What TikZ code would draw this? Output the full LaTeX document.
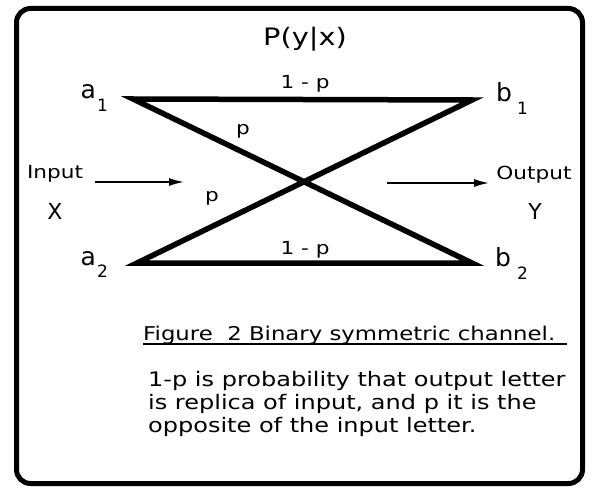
\documentclass[tikz,border=0pt]{standalone}
\usepackage{fontspec}
\setmainfont{DejaVu Sans}[FakeStretch=1.2]
\newfontfamily\narrowfont{DejaVu Sans}
\usetikzlibrary{shapes,arrows.meta}
\tikzstyle{line} = [draw, line width=1.6pt, -{Latex[length=15pt,width=8pt]}]
\tikzstyle{wire} = [draw, line width=5.5pt]
\tikzstyle{letter} = [inner sep=0pt, anchor=base west, font=\narrowfont\fontsize{25}{25}\selectfont]
\tikzstyle{prob} = [inner sep=0pt, anchor=base, font=\fontsize{18}{18}\selectfont]
\tikzstyle{body} = [inner sep=0pt, anchor=base west, font=\fontsize{20}{24}\selectfont]
\newcommand{\idx}[1]{\raisebox{-13pt}{\fontsize{17}{17}\selectfont #1}}

\begin{document}
\begin{tikzpicture}[x=1pt,y=-1pt]
\useasboundingbox (0,0) rectangle (594,489);
\draw[line width=5pt, rounded corners=14pt] (16.5,8.5) rectangle (582.5,483.5);
%
\coordinate (a1) at (133,99);
\coordinate (b1) at (472,100);
\coordinate (a2) at (137,263);
\coordinate (b2) at (472,263);
\path[wire] (a1) -- (b1) -- (a2) -- (b2) -- cycle;
%
\node[letter] (la1) at (80.5,99) {a\hspace{1pt}\idx{1}};
\node[letter] (lb1) at (496,102) {b\hspace{5pt}\idx{1}};
\node[letter] (la2) at (80.5,265) {a\hspace{1pt}\idx{2}};
\node[letter] (lb2) at (495,266) {b\hspace{6pt}\idx{2}};
%
\node[prob, font=\fontsize{24}{24}\selectfont] (title) at (305,46) {P(y|x)};
\node[prob] (top) at (305,89) {1 - p};
\node[prob] (bot) at (305,254) {1 - p};
\node[prob] (pa) at (243,135) {p};
\node[prob] (pb) at (212,202) {p};
%
\node[prob] (inp) at (55,179) {Input};
\node[prob, font=\narrowfont\fontsize{22}{22}\selectfont] (xin) at (55,219) {X};
\node[prob] (outp) at (534,180) {Output};
\node[prob, font=\narrowfont\fontsize{22}{22}\selectfont] (yout) at (535,219) {Y};
\coordinate (inbeg) at (95,182);
\coordinate (inend) at (184,182);
\coordinate (outbeg) at (387,183);
\coordinate (outend) at (489,183);
\path[line] (inbeg) -- (inend);
\path[line] (outbeg) -- (outend);
%
\node[body, font=\fontsize{19}{24}\selectfont] (cap) at (143,340) {Figure\ \ 2 Binary symmetric channel.};
\draw[line width=1.4pt] ([yshift=-4pt]cap.base west) -- ++(424,0);
\node[body] (text1) at (148,386) {1-p is probability that output letter};
\node[body] (text2) at (148,409) {is replica of input, and p it is the};
\node[body] (text3) at (148,432) {opposite of the input letter.};
\end{tikzpicture}
\end{document}
